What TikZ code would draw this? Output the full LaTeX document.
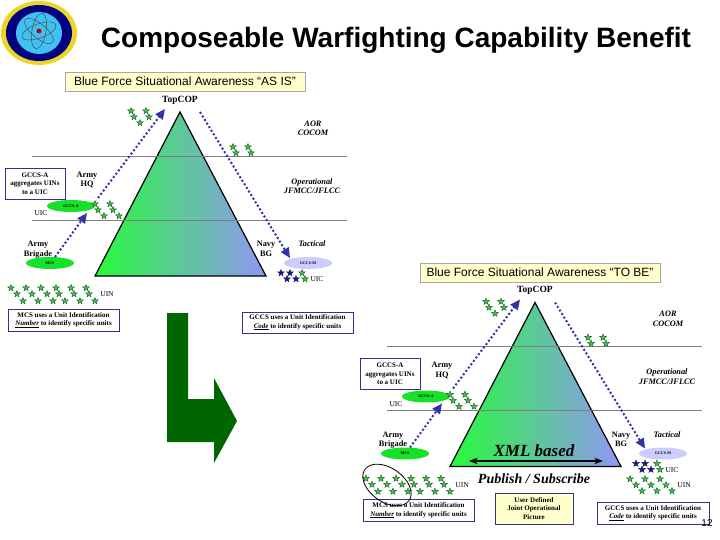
\documentclass[tikz,border=0pt]{standalone}
\usepackage{fontspec}
\setmainfont{Liberation Serif}
\newfontfamily\arialfont{Liberation Sans}
\usetikzlibrary{arrows.meta,shapes.geometric}
\definecolor{boxblue}{RGB}{50,50,140}
\definecolor{lineblue}{RGB}{50,50,170}
\definecolor{noteyellow}{RGB}{255,255,204}
\definecolor{ovalgreen}{RGB}{20,225,40}
\definecolor{starfill}{RGB}{70,190,70}
\definecolor{stardark}{RGB}{20,100,40}
\definecolor{navystar}{RGB}{25,25,110}
\definecolor{darkarrow}{RGB}{0,102,0}
\definecolor{pyrleft}{RGB}{40,250,60}
\definecolor{pyrmid}{RGB}{100,210,170}
\definecolor{pyrright}{RGB}{145,150,245}
\tikzset{
  lev/.style={draw=black!50, line width=0.8pt},
  hopline/.style={lineblue, line width=2pt, dash pattern=on 2pt off 2.2pt, -{Triangle[length=10pt,width=9pt]}},
  gstar/.style={star, star points=5, star point ratio=2.3, minimum size=7pt, inner sep=0pt, fill=starfill, draw=stardark, line width=0.4pt},
  nstar/.style={gstar, fill=navystar, draw=navystar},
  oval/.style={ellipse, minimum width=48pt, minimum height=12pt, inner sep=0pt, fill=ovalgreen, font=\fontsize{4}{4}\selectfont\bfseries},
  notebox/.style={draw=boxblue, line width=0.9pt, fill=white, align=center, inner sep=0pt, font=\fontsize{7}{8.5}\selectfont\bfseries},
  titlebox/.style={draw=black!35, fill=noteyellow, inner sep=0pt, minimum height=19pt, font=\arialfont\fontsize{12}{12}\selectfont},
  lab/.style={align=center, inner sep=0pt, font=\fontsize{8.3}{9.5}\selectfont\bfseries},
  itlab/.style={lab, font=\fontsize{8.3}{9.5}\selectfont\bfseries\itshape},
  smalllab/.style={lab, font=\fontsize{7.5}{8}\selectfont},
}
% one panel, drawn twice
\newcommand{\forcepanel}{
    % Levels
    \coordinate (la) at (32,156);
    \coordinate (lb) at (347,156);
    \coordinate (lc) at (32,220);
    \coordinate (ld) at (347,220);

    % Pyramid
    \draw[line width=1.2pt, left color=pyrleft, middle color=pyrmid, right color=pyrright]
        (180,112) -- (266,276) -- (95,276) -- cycle;
    \draw[lev] (la) -- (lb);
    \draw[lev] (lc) -- (ld);

    % Echelons
    \node[lab, font=\fontsize{9.5}{10}\selectfont\bfseries] (top) at (180,100) {TopCOP};
    \node[itlab] (aor) at (313,128.5) {AOR\\COCOM};
    \node[itlab] (oper) at (312,186) {Operational\\JFMCC/JFLCC};
    \node[lab] (hq) at (87,180) {Army\\HQ};
    \node[lab] (bde) at (38,249.5) {Army\\Brigade};
    \node[lab] (bg) at (266,249) {Navy\\BG};
    \node[itlab] (tac) at (312,244) {Tactical};
    \node[smalllab] (uicl) at (41,213.5) {UIC};
    \node[smalllab] (uicr) at (317,279.5) {UIC};
    \node[smalllab] (uin) at (107,294.5) {UIN};

    % Systems
    \node[oval] (gccsa) at (71,206) {GCCS-A};
    \node[oval] (mcs) at (50,263) {MCS};
    \node[oval, fill=blue!20!white] (gccsm) at (308,263) {GCCS-M};

    % Reporting paths
    \coordinate (hqfoot) at (98,198);
    \coordinate (hqtip) at (165,109);
    \coordinate (bdefoot) at (55,257);
    \coordinate (bdetip) at (87,213);
    \coordinate (navyfoot) at (200,112);
    \coordinate (navytip) at (290,258);
    \draw[hopline] (hqfoot) -- (hqtip);
    \draw[hopline] (bdefoot) -- (bdetip);
    \draw[hopline] (navyfoot) -- (navytip);

    % Stars
    \foreach \x/\y [count=\i] in {131/111,134/117,140/123,146/111,149/117,
                                  233/147,236/153,248/147,251/153,
                                  95/204,98/210,104/216,110/204,113/210,119/216,
                                  11/288,26/288,41/288,56/288,71/288,86/288,
                                  17/294,32/294,47/294,59/294,74/294,89/294,
                                  23/301,38/301,53/301,65/301,80/301,95/301,
                                  302/273,305/279}
        \node[gstar] (star\i) at (\x,\y) {};
    \foreach \x/\y [count=\i] in {281/273,290/273,287/279,296/279}
        \node[nstar] (navy\i) at (\x,\y) {};

    % Notes
    \node[notebox, minimum width=60pt, minimum height=31pt] (gccsnote) at (35,183.5)
        {GCCS-A\\aggregates UINs\\to a UIC};
    \node[notebox, minimum width=111pt, minimum height=22pt] (mcsnote) at (63.5,320)
        {MCS uses a Unit Identification\\\underline{\textit{Number}} to identify specific units};
}
\begin{document}
\begin{tikzpicture}[x=1pt, y=-1pt, >=Stealth]
    \useasboundingbox (0,0) rectangle (720,540);

    % Seal
    \fill[yellow!70!brown] (39,33) ellipse (38 and 32);
    \fill[blue!50!black] (39,33) ellipse (33 and 28);
    \fill[cyan!75!white] (39,33) ellipse (23 and 21);
    \foreach \a in {20,80,140}
        \draw[black!70, line width=0.5pt, rotate around={\a:(39,31)}] (39,31) ellipse (18 and 7);
    \fill[red!75!black] (39,31) circle (2.5);

    % Title
    \node[inner sep=0pt, font=\arialfont\bfseries\fontsize{28}{30}\selectfont] (title) at (396,40)
        {Composeable Warfighting Capability Benefit};

    % AS IS
    \node[titlebox, minimum width=240pt] (asis) at (185,81.5) {Blue Force Situational Awareness “AS IS”};
    \forcepanel
    \node[notebox, minimum width=111pt, minimum height=21pt] (gccsa2) at (297.5,322.5)
        {GCCS uses a Unit Identification\\\underline{\textit{Code}} to identify specific units};

    % Big arrow
    \fill[darkarrow] (167,313) -- (188,313) -- (188,399) -- (214,399) -- (214,378)
        -- (237,421) -- (214,463) -- (214,442) -- (167,442) -- cycle;

    % TO BE
    \node[titlebox, minimum width=240pt] (tobe) at (540,272.5) {Blue Force Situational Awareness “TO BE”};
    \begin{scope}[shift={(355,190.5)}, name prefix=b-]
        \forcepanel
    \end{scope}

    % Extra stars
    \foreach \x/\y [count=\i] in {630/479,645/479,660/479,636/485,651/485,666/485,642/491,657/491,672/491}
        \node[gstar] (uinstar\i) at (\x,\y) {};
    \node[smalllab] (uinb) at (684,485) {UIN};

    % Publish
    \coordinate (xmla) at (469,461);
    \coordinate (xmlb) at (603,461);
    \draw[<->, line width=1.3pt] (xmla) -- (xmlb);
    \node[inner sep=0pt, font=\fontsize{17}{18}\selectfont\bfseries\itshape] (xml) at (534,451) {XML based};
    \node[inner sep=0pt, font=\fontsize{14}{16}\selectfont\bfseries\itshape] (pub) at (534,479) {Publish / Subscribe};
    \node[notebox, fill=noteyellow, minimum width=78pt, minimum height=31pt] (udjop) at (534,508.5)
        {User Defined\\Joint Operational\\Picture};
    \node[notebox, minimum width=112pt, minimum height=22pt] (gccsb) at (653,513)
        {GCCS uses a Unit Identification\\\underline{\textit{Code}} to identify specific units};
    \draw[line width=0.8pt, rotate around={-35:(387,485)}] (387,485) ellipse (27 and 17);

    % Page number
    \node[inner sep=0pt, font=\arialfont\fontsize{10}{10}\selectfont] (page) at (707,523) {12};
\end{tikzpicture}
\end{document}
